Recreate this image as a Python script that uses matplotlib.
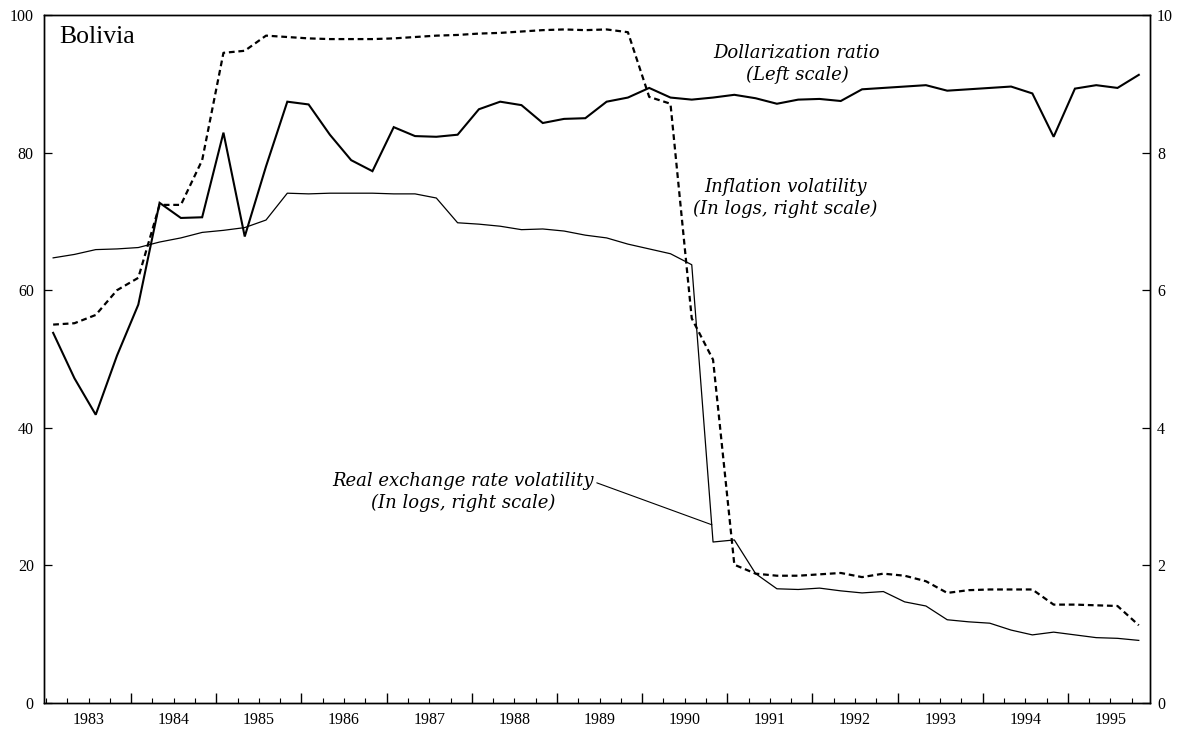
import numpy as np
import matplotlib
matplotlib.use("Agg")
import matplotlib.pyplot as plt
from matplotlib.transforms import blended_transform_factory

# Bolivia, quarterly data 1983Q1 - 1995Q4
first_year = 1983
years = list(range(1983, 1996))

# dollarization ratio, percent (left scale)
dollarization = [53.8, 47.2, 41.9, 50.5, 57.9, 72.7, 70.5, 70.6, 82.9, 67.8,
                 78.0, 87.4, 87.0, 82.6, 78.9, 77.3, 83.7, 82.4, 82.3, 82.6,
                 86.3, 87.4, 86.9, 84.3, 84.9, 85.0, 87.4, 88.0, 89.4, 88.0,
                 87.7, 88.0, 88.4, 87.9, 87.1, 87.7, 87.8, 87.5, 89.2, 89.4,
                 89.6, 89.8, 89.0, 89.2, 89.4, 89.6, 88.6, 82.3, 89.3, 89.8,
                 89.4, 91.3]

# inflation volatility, in logs (right scale)
inflation_vol = [5.50, 5.52, 5.64, 6.00, 6.18, 7.24, 7.24, 7.89, 9.45, 9.48,
                 9.70, 9.68, 9.66, 9.65, 9.65, 9.65, 9.66, 9.68, 9.70, 9.71,
                 9.73, 9.74, 9.76, 9.78, 9.79, 9.78, 9.79, 9.75, 8.81, 8.71,
                 5.59, 4.99, 2.01, 1.88, 1.85, 1.85, 1.87, 1.89, 1.83, 1.88,
                 1.85, 1.77, 1.60, 1.64, 1.65, 1.65, 1.65, 1.43, 1.43, 1.42,
                 1.41, 1.13]

# real exchange rate volatility, in logs (right scale)
rer_vol = [6.47, 6.52, 6.59, 6.60, 6.62, 6.70, 6.76, 6.84, 6.87, 6.91,
           7.02, 7.41, 7.40, 7.41, 7.41, 7.41, 7.40, 7.40, 7.34, 6.98,
           6.96, 6.93, 6.88, 6.89, 6.86, 6.80, 6.76, 6.67, 6.60, 6.53,
           6.37, 2.34, 2.37, 1.88, 1.66, 1.65, 1.67, 1.63, 1.60, 1.62,
           1.47, 1.41, 1.21, 1.18, 1.16, 1.06, 0.99, 1.03, 0.99, 0.95,
           0.94, 0.91]

t = first_year + 1 / 12 + np.arange(len(dollarization)) / 4

plt.rcParams['font.family'] = ['Liberation Serif', 'DejaVu Serif']
note_font = dict(family='DejaVu Serif', style='italic', size=13)

fig = plt.figure(figsize=(11.84, 7.29), dpi=100)
ax = fig.add_axes([43.5 / 1184, 1 - 703 / 729, (1150 - 43.5) / 1184, (703 - 15) / 729])
ax2 = ax.twinx()

ax.plot(t, dollarization, color='black', lw=1.5, solid_joinstyle='miter')
ax2.plot(t, inflation_vol, color='black', lw=1.6, linestyle=(0, (2.6, 1.7)))
ax2.plot(t, rer_vol, color='black', lw=0.9)

ax.set_xlim(1982.97, 1995.965)
ax.set_ylim(0, 100)
ax2.set_ylim(0, 10)

ax.set_yticks(range(0, 101, 20))
ax2.set_yticks(range(0, 11, 2))
ax.tick_params(axis='y', direction='in', length=6, width=0.9, labelsize=11.5, pad=7)
ax2.tick_params(axis='y', direction='in', length=6, width=0.9, labelsize=11.5, pad=5)

# year boundaries as major ticks, quarters as minor, labels centred on each year
ax.set_xticks(years[1:])
ax.set_xticklabels([])
ax.set_xticks(np.arange(1983, 1996, 0.25), minor=True)
ax.tick_params(axis='x', which='major', direction='in', length=7, width=1)
ax.tick_params(axis='x', which='minor', direction='in', length=3.5, width=0.8)
trans = blended_transform_factory(ax.transData, ax.transAxes)
for y in years:
    ax.text(y + 0.5, -0.013, str(y), transform=trans, ha='center', va='top', fontsize=11.5)

for a in (ax, ax2):
    for s in a.spines.values():
        s.set_linewidth(1.0)

ax.text(1983.154, 96.8, 'Bolivia', fontsize=18.5, va='center', ha='left')
ax.text(1991.82, 92.9, 'Dollarization ratio\n(Left scale)', ha='center', va='center',
        linespacing=1.25, **note_font)
ax.text(1991.68, 73.4, 'Inflation volatility\n(In logs, right scale)', ha='center', va='center',
        linespacing=1.25, **note_font)
ax.annotate('Real exchange rate volatility\n(In logs, right scale)',
            xy=(1990.82, 25.9), xytext=(1987.9, 30.7), ha='center', va='center',
            linespacing=1.25, arrowprops=dict(arrowstyle='-', color='black', lw=0.8,
                                              shrinkA=0, shrinkB=0, relpos=(1.0, 0.75)),
            **note_font)

fig.savefig('out.png', dpi=100, facecolor='white')
